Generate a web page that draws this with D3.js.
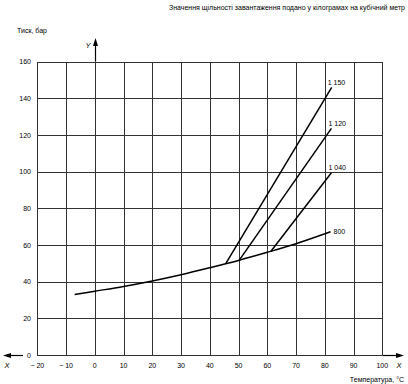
<!DOCTYPE html>
<html><head><meta charset="utf-8">
<script src="https://cdn.jsdelivr.net/npm/d3@7"></script>
<style>body{margin:0;background:#fff}svg{display:block}text{font-family:"Liberation Sans",Arial,sans-serif;fill:#000}</style>
</head><body>
<script>
const xTicks = [-20,-10,0,10,20,30,40,50,60,70,80,90,100];
const xTickLabels = ["− 20","− 10","0","10","20","30","40","50","60","70","80","90","100"];
const yTicks = [0,20,40,60,80,100,120,140,160];
const curve800X = [-7,0,10,20,30,40,50,60,70,82];
const curve800Y = [33,34.8,37.4,40.4,43.8,47.6,51.6,56,60.7,67.2];
const line1150 = [[45.6,50],[82.4,146]];
const line1120 = [[50.2,51.6],[82.3,123.6]];
const line1040 = [[61.2,56.5],[82.3,99.4]];
const labels = ["1 150","1 120","1 040","800"];
const title = "Значення щільності завантаження подано у кілограмах на кубічний метр";
const yTitle = "Тиск, бар";
const xTitle = "Температура, °C";

const W=408,H=384;
const svg=d3.select("body").append("svg").attr("width",W).attr("height",H);
const x=d3.scaleLinear().domain([-20,100]).range([37.3,382.3]);
const y=d3.scaleLinear().domain([0,160]).range([355,61.7]);

// grid
const g=svg.append("g").attr("shape-rendering","crispEdges");
g.selectAll(".vx").data(xTicks).join("line")
 .attr("x1",d=>Math.round(x(d))+0.5).attr("x2",d=>Math.round(x(d))+0.5)
 .attr("y1",y(0)).attr("y2",y(160)).attr("stroke","#333").attr("stroke-width",1);
g.selectAll(".hy").data(yTicks).join("line")
 .attr("y1",d=>Math.round(y(d))+0.5).attr("y2",d=>Math.round(y(d))+0.5)
 .attr("x1",x(-20)).attr("x2",x(100)).attr("stroke","#333").attr("stroke-width",1);

// axes arrows
const ax=svg.append("g");
const y0=Math.round(y(0))+0.5, x0=Math.round(x(0))+0.5;
ax.append("line").attr("x1",x0).attr("x2",x0).attr("y1",y(160)).attr("y2",44).attr("stroke","#000").attr("stroke-width",1.2);
ax.append("path").attr("d",`M${x0},38 L${x0-2.5},46 L${x0+2.5},46 Z`).attr("fill","#000");
ax.append("line").attr("x1",x(100)).attr("x2",398).attr("y1",y0).attr("y2",y0).attr("stroke","#000").attr("stroke-width",1.2);
ax.append("path").attr("d",`M404,${y0} L396,${y0-2.5} L396,${y0+2.5} Z`).attr("fill","#000");
ax.append("line").attr("x1",9).attr("x2",23).attr("y1",y0).attr("y2",y0).attr("stroke","#000").attr("stroke-width",1.2);
ax.append("path").attr("d",`M3,${y0} L11,${y0-2.5} L11,${y0+2.5} Z`).attr("fill","#000");

// tick labels
svg.selectAll(".xl").data(xTicks).join("text")
 .attr("x",d=>x(d)).attr("y",368).attr("text-anchor","middle").attr("font-size",7)
 .text((d,i)=>xTickLabels[i]);
svg.selectAll(".yl").data(yTicks).join("text")
 .attr("x",31).attr("y",d=>y(d)+2.5).attr("text-anchor","end").attr("font-size",7)
 .text(d=>d);

svg.append("text").attr("x",7).attr("y",368).attr("text-anchor","middle").attr("font-size",7.5).attr("font-style","italic").text("X");
svg.append("text").attr("x",399).attr("y",368).attr("text-anchor","middle").attr("font-size",7.5).attr("font-style","italic").text("X");
svg.append("text").attr("x",88).attr("y",48).attr("text-anchor","middle").attr("font-size",7.5).attr("font-style","italic").text("Y");

svg.append("text").attr("x",405).attr("y",10).attr("text-anchor","end").attr("font-size",7).text(title);
svg.append("text").attr("x",17).attr("y",33).attr("font-size",7).text(yTitle);
svg.append("text").attr("x",404).attr("y",382).attr("text-anchor","end").attr("font-size",7).text(xTitle);

// curves
const lg=d3.line().x(d=>x(d[0])).y(d=>y(d[1]));
const c800=curve800X.map((v,i)=>[v,curve800Y[i]]);
svg.append("path").attr("d",d3.line().x(d=>x(d[0])).y(d=>y(d[1])).curve(d3.curveCatmullRom)(c800))
 .attr("fill","none").attr("stroke","#000").attr("stroke-width",1.5);
[line1150,line1120,line1040].forEach(l=>{
 svg.append("path").attr("d",lg(l)).attr("fill","none").attr("stroke","#000").attr("stroke-width",1.5);
});
const ends=[line1150[1],line1120[1],line1040[1],c800[c800.length-1]];
const offs=[[-4,-5],[-3,-5],[-3,-5],[3,0]];
svg.selectAll(".cl").data(labels).join("text")
 .attr("x",(d,i)=>x(ends[i][0])+offs[i][0]).attr("y",(d,i)=>y(ends[i][1])+offs[i][1]+2.5)
 .attr("font-size",7).text(d=>d);
</script>
</body></html>
